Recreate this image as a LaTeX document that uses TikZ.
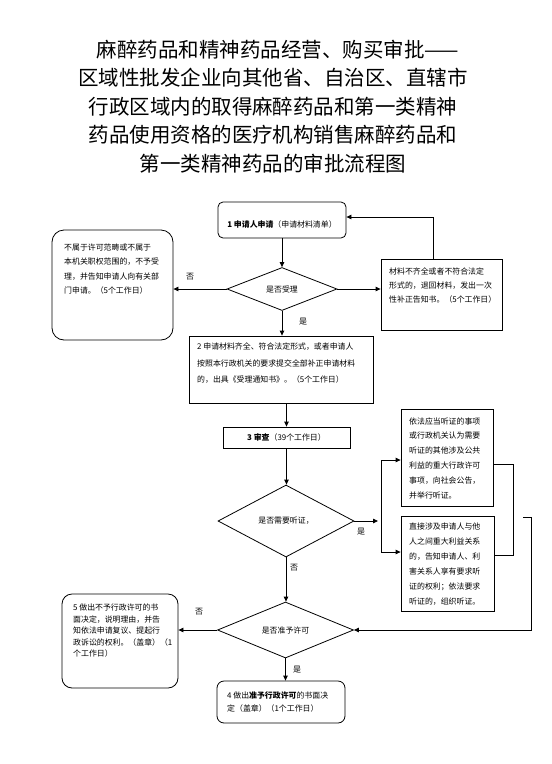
\documentclass[tikz,border=0pt]{standalone}
\usepackage{fontspec}
\setmainfont{Noto Sans CJK SC}
\usetikzlibrary{shapes.geometric,arrows.meta}
\begin{document}
\begin{tikzpicture}[x=1pt,y=-1pt,
  line/.style={line width=0.8pt, draw=black},
  arr/.style={line, -{Triangle[length=5pt,width=4.5pt]}},
  sq/.style={draw=black, line width=0.8pt, inner sep=0pt},
  rbox/.style={sq, rounded corners=#1},
  dia/.style={draw=black, line width=0.8pt, diamond, inner sep=0pt, font=\fontsize{7.9}{9}\selectfont},
  txt/.style={inner sep=0pt, align=left, anchor=west},
  lbl/.style={inner sep=0pt, font=\fontsize{8}{9}\selectfont},
  title/.style={inner sep=0pt, align=center, font=\fontsize{20.5}{28.5}\selectfont}
]
\useasboundingbox (0,0) rectangle (552,764);
\fill[white] (0,0) rectangle (552,764);

% title
\node[title] (title) at (273,106.5) {\hspace*{0.5em}麻醉药品和精神药品经营、购买审批——\\
区域性批发企业向其他省、自治区、直辖市\\
行政区域内的取得麻醉药品和第一类精神\\
药品使用资格的医疗机构销售麻醉药品和\\
第一类精神药品的审批流程图};

% step 1
\node[rbox=5pt, minimum width=128pt, minimum height=36pt] (b1) at (282,220) {};
\node[inner sep=0pt, font=\fontsize{7.9}{9}\selectfont] (b1t) at (282,224) {{\bfseries 1 申请人申请}（申请材料清单）};

\node[dia, minimum width=110pt, minimum height=43pt] (d1) at (282,289) {是否受理};

\node[rbox=12pt, minimum width=121pt, minimum height=110pt] (lb) at (112.5,285) {};
\node[txt, font=\fontsize{7.9}{14.3}\selectfont] (lbt) at (64,269) {不属于许可范畴或不属于\\本机关职权范围的，不予受\\理，并告知申请人向有关部\\门申请。（5个工作日）};

\node[sq, minimum width=121pt, minimum height=71pt] (rb1) at (441.5,294.5) {};
\node[txt, font=\fontsize{7.9}{14}\selectfont] (rb1t) at (389,286) {材料不齐全或者不符合法定\\形式的，退回材料，发出一次\\性补正告知书。（5个工作日）};

\draw[arr] (b1.south) -- (d1.north);
\draw[arr] (d1.west) -- (d1.west -| lb.east);
\draw[arr] (d1.east) -- (d1.east -| rb1.west);
\draw[arr] ([xshift=-8.5pt]rb1.north) |- ([yshift=3pt]b1.east);
\node[lbl] (no1) at (190,277) {否};
\node[lbl] (yes1) at (303,322) {是};

% step 2
\node[sq, minimum width=184pt, minimum height=67pt] (b2) at (281,369.5) {};
\node[txt, font=\fontsize{7.9}{16.5}\selectfont] (b2t) at (197,363.5) {2 申请材料齐全、符合法定形式，或者申请人\\按照本行政机关的要求提交全部补正申请材料\\的，出具《受理通知书》。（5个工作日）};
\draw[arr] (d1.south) -- (d1.south |- b2.north);

% step 3
\node[sq, minimum width=127pt, minimum height=21pt, font=\fontsize{7.9}{9}\selectfont] (b3) at (286.5,437.5) {{\bfseries 3 审查}（39个工作日）};
\draw[arr] (b2.south -| b3.north) -- (b3.north);

\node[dia, minimum width=136pt, minimum height=72pt] (d2) at (286,521) {是否需要听证，};
\draw[arr] (b3.south) -- (b3.south |- d2.north);

\node[sq, minimum width=92pt, minimum height=97pt] (hb1) at (447,457.5) {};
\node[txt, font=\fontsize{7.9}{14.8}\selectfont] (hb1t) at (409,458) {依法应当听证的事项\\或行政机关认为需要\\听证的其他涉及公共\\利益的重大行政许可\\事项，向社会公告，\\并举行听证。};
\node[sq, minimum width=93pt, minimum height=95pt] (hb2) at (447.5,563.5) {};
\node[txt, font=\fontsize{7.9}{15}\selectfont] (hb2t) at (409,564.5) {直接涉及申请人与他\\人之间重大利益关系\\的，告知申请人、利\\害关系人享有要求听\\证的权利；依法要求\\听证的，组织听证。};

\coordinate (j) at (378,521);
\draw[arr] (d2.east) -- (j);
\coordinate (k1) at (381,460);
\coordinate (k2) at (381,552);
\draw[arr] (k2) -- (k1) -- (k1 -| hb1.west);
\draw[arr] (k2) -- (k2 -| hb2.west);
\node[lbl] (yes2) at (361,532) {是};

\coordinate (m1) at (513,464);
\coordinate (m2) at (513,555);
\draw[line] (hb1.east |- m1) -- (m1) -- (m2) -- (hb2.east |- m2);

% step 4/5
\node[dia, minimum width=136pt, minimum height=56pt] (d3) at (285.5,630) {是否准予许可};
\draw[arr] (d2.south) -- (d2.south |- d3.north);
\node[lbl] (no2) at (294,568) {否};

\coordinate (n) at (523,517);
\draw[arr] (n) -- ++(8,0) |- (d3.east);

\node[rbox=10pt, minimum width=116pt, minimum height=94pt] (b5) at (120,641) {};
\node[txt, font=\fontsize{7.9}{11.5}\selectfont] (b5t) at (73,631) {5 做出不予行政许可的书\\面决定，说明理由，并告\\知依法申请复议、提起行\\政诉讼的权利。（盖章）（1\\个工作日）};
\draw[arr] (d3.west) -- (d3.west -| b5.east);
\node[lbl] (no3) at (199,612) {否};

\node[rbox=7pt, minimum width=128pt, minimum height=42pt] (b4) at (281,702) {};
\node[txt, font=\fontsize{7.9}{13}\selectfont] (b4t) at (227,701.5) {4 做出{\bfseries 准予行政许可}的书面决\\定（盖章）（1个工作日）};
\draw[arr] (d3.south) -- (d3.south |- b4.north);
\node[lbl] (yes3) at (297,670) {是};
\end{tikzpicture}
\end{document}
